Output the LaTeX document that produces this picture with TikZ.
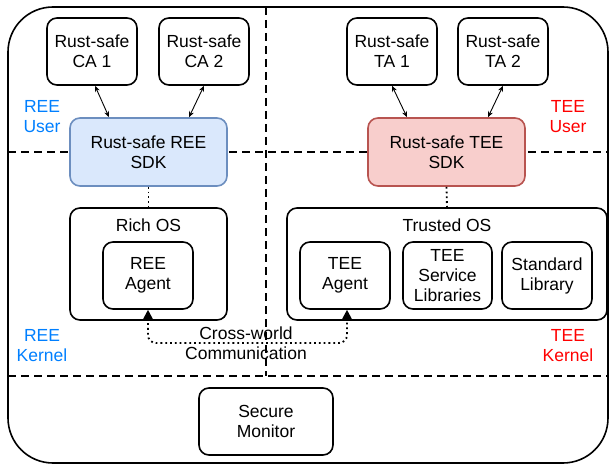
\documentclass[tikz,border=0pt]{standalone}
\usepackage{fontspec}
\setmainfont{Liberation Sans}
\usetikzlibrary{arrows.meta}
\definecolor{reeblue}{HTML}{007FFF}
\definecolor{teered}{HTML}{FF0000}
\definecolor{bluefill}{HTML}{DAE8FC}
\definecolor{bluedraw}{HTML}{6C8EBF}
\definecolor{redfill}{HTML}{F8CECC}
\definecolor{reddraw}{HTML}{B85450}
\begin{document}
\begin{tikzpicture}[x=1pt,y=-1pt,
  font=\fontsize{17.5}{20}\selectfont,
  box/.style={draw,line width=1.6pt,rounded corners=10pt,fill=white,align=center,inner sep=0pt},
  small/.style={box,minimum width=90pt,minimum height=67pt},
  sdkbox/.style={box,minimum width=157pt,minimum height=68pt},
  osbox/.style={box,minimum height=112pt},
  sep/.style={line width=1.6pt,dash pattern=on 8pt off 5pt},
  lbl/.style={align=center,inner sep=0pt},
  dotline/.style={line width=1.8pt,dash pattern=on 1.8pt off 3pt},
  bi/.style={line width=0.9pt,{Stealth[length=6pt,width=5pt]}-{Stealth[length=6pt,width=5pt]}}
]
\useasboundingbox (0,0) rectangle (610,465);
% outer frame
\draw[line width=1.6pt,rounded corners=45pt] (8,7) rectangle (608,463);
% separators
\coordinate (vtop) at (266,7);
\coordinate (vbot) at (266,376);
\coordinate (h1l) at (8,152);
\coordinate (h1r) at (608,152);
\coordinate (h2l) at (8,376);
\coordinate (h2r) at (608,376);
\draw[sep] (vtop) -- (vbot);
\draw[sep] (h1l) -- (h1r);
\draw[sep] (h2l) -- (h2r);
% user level
\node[small] (ca1) at (92,51.5) {Rust-safe\\CA 1};
\node[small] (ca2) at (204,51.5) {Rust-safe\\CA 2};
\node[small] (ta1) at (392,51.5) {Rust-safe\\TA 1};
\node[small] (ta2) at (503,51.5) {Rust-safe\\TA 2};
\node[sdkbox,fill=bluefill,draw=bluedraw] (reesdk) at (148.5,152) {Rust-safe REE\\SDK};
\node[sdkbox,fill=redfill,draw=reddraw] (teesdk) at (446.5,152) {Rust-safe TEE\\SDK};
\draw[bi] ([xshift=3pt]ca1.south) -- ([xshift=-39.5pt]reesdk.north);
\draw[bi] (ca2.south) -- ([xshift=40.5pt]reesdk.north);
\draw[bi] ([xshift=0pt]ta1.south) -- ([xshift=-39.5pt]teesdk.north);
\draw[bi] (ta2.south) -- ([xshift=41.5pt]teesdk.north);
% kernel level
\node[osbox,minimum width=157pt] (richos) at (148.5,264) {};
\node[lbl] (richlbl) at (148.5,225) {Rich OS};
\node[small] (reeagent) at (148,275.5) {REE\\Agent};
\node[osbox,minimum width=320pt] (trustos) at (447,264) {};
\node[lbl] (trustlbl) at (447,225) {Trusted OS};
\node[small] (teeagent) at (345,275.5) {TEE\\Agent};
\node[small,minimum width=89pt] (teesvc) at (447.5,275.5) {TEE\\Service\\Libraries};
\node[small] (stdlib) at (547,275.5) {Standard\\Library};
\draw[dotline] (reesdk.south) -- (richos.north);
\draw[dotline] (teesdk.south) -- (trustos.north);
% cross-world
\coordinate (cwl) at (148,343);
\coordinate (cwr) at (347,343);
\draw[dotline,rounded corners=8pt,{Triangle[length=9pt,width=9pt]}-{Triangle[length=9pt,width=9pt]}]
  (reeagent.south) -- (cwl) -- (cwr) -- ([xshift=2pt]teeagent.south);
\node[lbl] (cwlbl) at (246,343) {Cross-world\\Communication};
% secure monitor
\node[box,minimum width=134pt,minimum height=67pt] (mon) at (266,421.5) {Secure\\Monitor};
% region labels
\node[lbl,text=reeblue] (reeuser) at (42,117) {REE\\User};
\node[lbl,text=teered] (teeuser) at (568,117) {TEE\\User};
\node[lbl,text=reeblue] (reekern) at (42,346) {REE\\Kernel};
\node[lbl,text=teered] (teekern) at (568,346) {TEE\\Kernel};
\end{tikzpicture}
\end{document}
